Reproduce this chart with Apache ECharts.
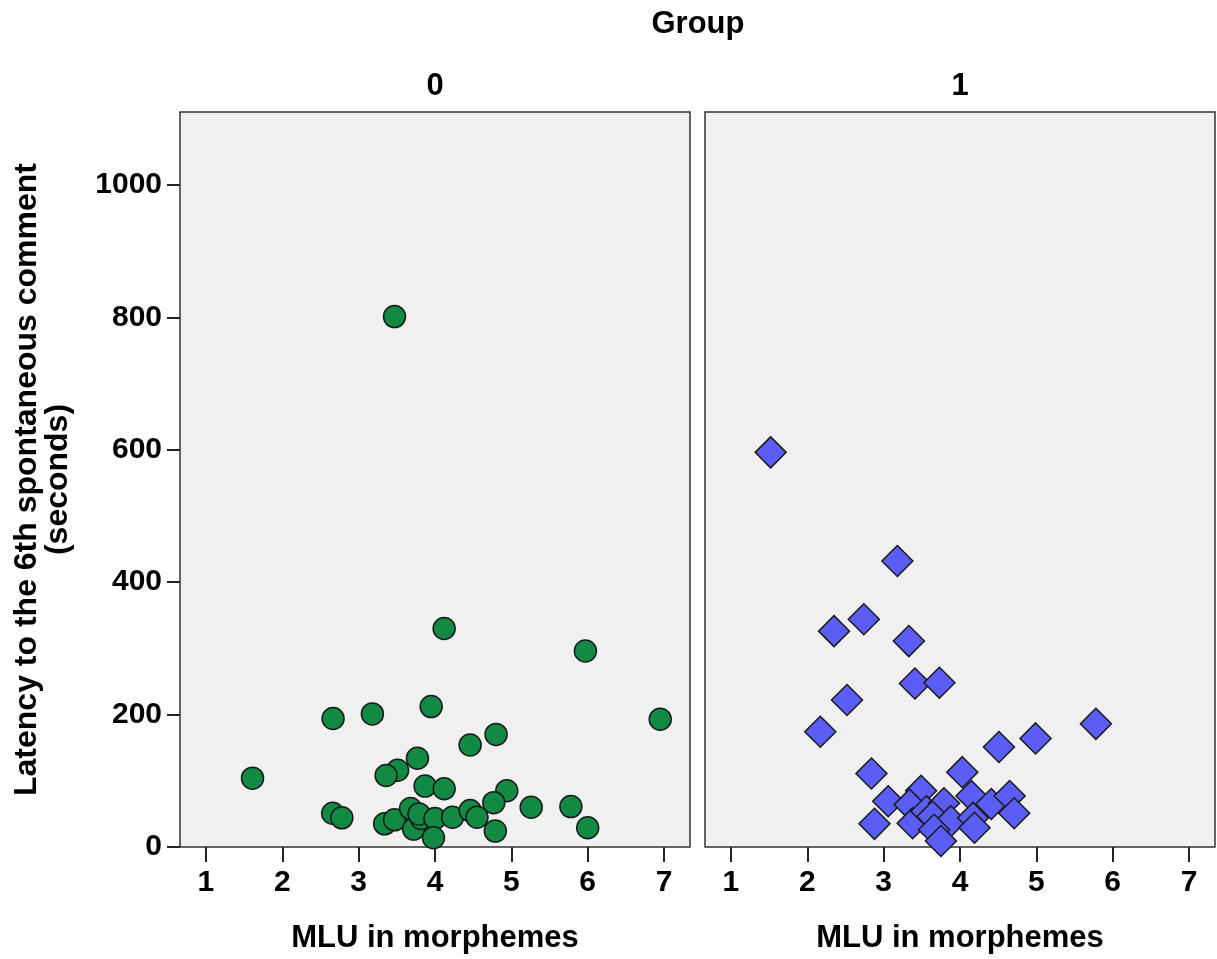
<!DOCTYPE html>
<html><head><meta charset="utf-8">
<script src="https://cdn.jsdelivr.net/npm/echarts@6/dist/echarts.min.js"></script>
<style>html,body{margin:0;padding:0;background:#fff}#c{width:1217px;height:959px}</style>
</head><body><div id="c"></div>
<script>
// ---- data ----
const group0MLU = [3.47, 4.12, 5.97, 6.95, 1.61, 2.665, 3.18, 3.95, 4.80, 4.46, 3.77, 3.51, 3.36, 3.87, 4.12, 4.94, 4.77, 5.26, 5.78, 6.00, 2.66, 2.78, 3.34, 3.47, 3.68, 3.72, 3.82, 3.79, 4.00, 3.98, 4.23, 4.46, 4.55, 4.79];
const group0Latency = [801, 330, 296, 193, 104, 194, 201, 212, 170, 154, 134, 116, 108, 92, 88, 85, 67, 60, 61, 29, 51, 44, 35, 41, 58, 27, 43, 50, 43, 14, 45, 55, 45, 24];
const group1MLU = [1.52, 3.18, 2.35, 2.74, 3.33, 3.41, 3.73, 2.52, 2.17, 5.78, 4.51, 4.99, 2.84, 4.03, 3.06, 2.88, 3.49, 3.34, 3.38, 3.56, 3.79, 3.64, 3.88, 3.66, 3.75, 4.15, 4.41, 4.65, 4.71, 4.17, 4.19];
const group1Latency = [596, 432, 326, 344, 311, 247, 248, 222, 174, 186, 151, 164, 111, 113, 69, 35, 85, 64, 36, 54, 66, 46, 39, 26, 9, 77, 65, 77, 51, 44, 29];
const xTicks = [1, 2, 3, 4, 5, 6, 7];
const yTicks = [0, 200, 400, 600, 800, 1000];
const panelLabels = ['0', '1'];
const groupTitle = 'Group';
const xTitle = 'MLU in morphemes';
const yTitle = 'Latency to the 6th spontaneous comment\n(seconds)';

const zip = (a, b) => a.map((v, i) => [v, b[i]]);
const FONT = '"Liberation Sans", Arial, sans-serif';
const panels = [{left: 180}, {left: 705}];
const PW = 510, PT = 112, PH = 735;
const plain = v => String(v);

function xAxis(i) {
  return {
    gridIndex: i, type: 'value', min: 0.66, max: 7.34,
    axisLine: {show: false}, splitLine: {show: false},
    axisTick: {show: true, length: 15, customValues: xTicks, lineStyle: {color: '#222', width: 2}},
    axisLabel: {customValues: xTicks, formatter: plain, fontSize: 30, fontWeight: 'bold', color: '#000', margin: 21, fontFamily: FONT},
    name: xTitle, nameLocation: 'middle', nameGap: 76,
    nameTextStyle: {fontSize: 31, fontWeight: 'bold', color: '#000', fontFamily: FONT}
  };
}
function yAxis(i) {
  const base = {
    gridIndex: i, type: 'value', min: 0, max: 1110,
    axisLine: {show: false}, splitLine: {show: false}
  };
  if (i === 0) {
    Object.assign(base, {
      axisTick: {show: true, length: 13, customValues: yTicks, lineStyle: {color: '#222', width: 2}},
      axisLabel: {customValues: yTicks, formatter: plain, fontSize: 30, fontWeight: 'bold', color: '#000', margin: 18,
                  fontFamily: FONT, padding: [8, 0, 0, 0]},
      name: yTitle, nameLocation: 'middle', nameRotate: 90, nameGap: 106,
      nameTextStyle: {fontSize: 32, fontWeight: 'bold', color: '#000', fontFamily: FONT, lineHeight: 31, align: 'center'}
    });
  } else {
    Object.assign(base, {axisTick: {show: false}, axisLabel: {show: false}});
  }
  return base;
}

const titleStyle = {fontSize: 31, fontWeight: 'bold', color: '#000', fontFamily: FONT};
const option = {
  backgroundColor: '#fff',
  animation: false,
  title: [
    {text: groupTitle, left: 698, top: 9, textAlign: 'center', padding: 0, textStyle: titleStyle},
    {text: panelLabels[0], left: 435, top: 71, textAlign: 'center', padding: 0, textStyle: titleStyle},
    {text: panelLabels[1], left: 960, top: 71, textAlign: 'center', padding: 0, textStyle: titleStyle}
  ],
  grid: panels.map(p => ({left: p.left, top: PT, width: PW, height: PH, show: true,
    backgroundColor: '#f0f0f0', borderColor: '#333', borderWidth: 1.5, containLabel: false})),
  xAxis: [xAxis(0), xAxis(1)],
  yAxis: [yAxis(0), yAxis(1)],
  series: [
    {type: 'scatter', xAxisIndex: 0, yAxisIndex: 0, symbol: 'circle', symbolSize: 22,
     data: zip(group0MLU, group0Latency),
     itemStyle: {color: '#128a43', borderColor: '#1a1a1a', borderWidth: 1.5, opacity: 1}},
    {type: 'scatter', xAxisIndex: 1, yAxisIndex: 1, symbol: 'diamond', symbolSize: 31,
     data: zip(group1MLU, group1Latency),
     itemStyle: {color: '#5a5ef7', borderColor: '#1a1a1a', borderWidth: 1.5, opacity: 1}}
  ]
};
const chart = echarts.init(document.getElementById('c'), null, {renderer: 'canvas'});
chart.setOption(option);
</script></body></html>
